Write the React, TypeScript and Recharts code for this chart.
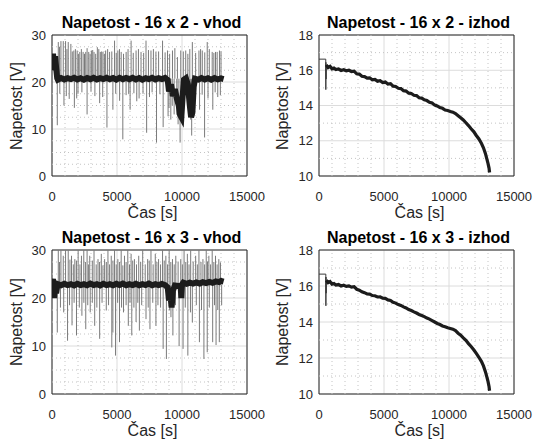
import { ComposedChart, Line, XAxis, YAxis, CartesianGrid, ReferenceLine, ReferenceArea } from 'recharts'

const FONT = '"Liberation Sans", Arial, Helvetica, sans-serif'

// axes
const X_TICKS = [0, 5000, 10000, 15000]
const X_MINOR = [1000, 2000, 3000, 4000, 6000, 7000, 8000, 9000, 11000, 12000, 13000, 14000]
const VHOD_Y_TICKS = [0, 10, 20, 30]
const VHOD_Y_MINOR = [2.5, 5, 7.5, 12.5, 15, 17.5, 22.5, 25, 27.5]
const IZHOD_Y_TICKS = [10, 12, 14, 16, 18]
const IZHOD_Y_MINOR = [11, 13, 15, 17]

// 16 x 2 - vhod
const VHOD2_LEVEL = 20.7
const VHOD2_CORE_T = [0, 80, 160, 240, 320, 400, 450, 700, 950, 1200, 1450, 1700, 1950, 2200, 2450, 2700, 2950, 3200, 3450, 3700, 3950, 4200, 4450, 4700, 4950, 5200, 5450, 5700, 5950, 6200, 6450, 6700, 6950, 7200, 7450, 7700, 7950, 8200, 8450, 8700, 8900, 9000, 9150, 9300, 9450, 9600, 9750, 9850, 9950, 10050, 10150, 10300, 10450, 10600, 10700, 10800, 10900, 11000, 11250, 11500, 11750, 12000, 12250, 12500, 12750, 13000, 13200]
const VHOD2_CORE_V = [24.5, 26.0, 22.5, 25.5, 23.0, 20.8, 20.5, 20.85, 20.55, 20.8, 20.6, 20.9, 20.55, 20.8, 20.5, 20.85, 20.6, 20.9, 20.55, 20.8, 20.6, 20.9, 20.6, 20.85, 20.5, 20.9, 20.6, 20.85, 20.6, 20.9, 20.55, 20.85, 20.5, 20.8, 20.6, 20.9, 20.55, 20.8, 20.6, 20.85, 20.4, 18.0, 19.5, 17.0, 18.5, 16.5, 15.0, 13.0, 12.5, 17.0, 20.5, 20.8, 19.5, 15.0, 12.5, 13.5, 19.0, 20.7, 20.5, 20.85, 20.55, 20.8, 20.5, 20.85, 20.55, 20.75, 20.6]
const VHOD2_UP_T = [484, 580, 687, 866, 1044, 1150, 1248, 1451, 1560, 1680, 1800, 1935, 2030, 2139, 2260, 2393, 2500, 2597, 2700, 2826, 2930, 3030, 3130, 3233, 3360, 3488, 3600, 3717, 3820, 3921, 4030, 4125, 4280, 4430, 4600, 4812, 4940, 5067, 5190, 5321, 5500, 5703, 5850, 6085, 6250, 6467, 6650, 6849, 7050, 7231, 7420, 7613, 7800, 7994, 8200, 8504, 8700, 8886, 9050, 9267, 9450, 9649, 9904, 10100, 10286, 10450, 10600, 10795, 11050, 11304, 11430, 11559, 11750, 11941, 12100, 12323, 12450, 12577, 12704, 12883, 13000]
const VHOD2_UP_V = [28.5, 27.5, 28.7, 28.7, 28.7, 27.0, 28.5, 28.1, 26.5, 26.7, 27.0, 26.7, 26.0, 26.4, 27.0, 26.4, 26.0, 26.4, 27.2, 26.4, 26.0, 26.7, 26.8, 26.4, 26.0, 27.4, 27.0, 26.4, 26.5, 26.4, 26.0, 26.7, 27.0, 26.4, 26.5, 28.8, 26.2, 26.7, 27.0, 26.4, 26.0, 26.4, 27.0, 28.8, 26.2, 26.7, 27.0, 26.4, 26.2, 28.8, 26.8, 26.7, 27.0, 26.4, 26.5, 28.8, 26.3, 26.7, 26.0, 26.7, 27.2, 25.3, 26.7, 26.5, 26.7, 26.0, 27.0, 28.5, 26.2, 26.7, 27.0, 26.7, 26.3, 28.5, 27.0, 26.4, 26.2, 26.4, 26.4, 26.7, 26.5]
const VHOD2_DOWN_T = [407, 600, 920, 1100, 1324, 1720, 1900, 2000, 2300, 2699, 3000, 3300, 3666, 3900, 4226, 4685, 4900, 5200, 5448, 5700, 5900, 6009, 6300, 6520, 6700, 7000, 7280, 7500, 7700, 8040, 8300, 8550, 8930, 9000, 9140, 9250, 9395, 9600, 9700, 9853, 10159, 10300, 10550, 10668, 10744, 10850, 11000, 11350, 11550, 11737, 12000, 12370, 12550, 12750, 12950]
const VHOD2_DOWN_V = [10.8, 17.5, 15.0, 17.0, 16.4, 14.5, 16.5, 17.5, 17.8, 13.1, 18.0, 17.0, 15.5, 16.8, 10.3, 14.1, 17.5, 16.0, 7.8, 17.2, 17.5, 14.1, 17.6, 15.9, 16.5, 17.5, 9.2, 16.8, 17.8, 7.1, 17.4, 10.4, 12.7, 14.5, 12.0, 15.0, 13.1, 13.0, 11.0, 7.1, 16.2, 17.6, 13.0, 12.0, 8.6, 12.5, 17.0, 14.1, 17.3, 8.2, 16.5, 14.1, 17.8, 16.8, 17.2]

// 16 x 3 - vhod
const VHOD3_LEVEL = 22.8
const VHOD3_CORE_T = [0, 80, 160, 240, 320, 400, 450, 700, 950, 1200, 1450, 1700, 1950, 2200, 2450, 2700, 2950, 3200, 3450, 3700, 3950, 4200, 4450, 4700, 4950, 5200, 5450, 5700, 5950, 6200, 6450, 6700, 6950, 7200, 7450, 7700, 7950, 8200, 8450, 8700, 8900, 9000, 9100, 9200, 9300, 9450, 9700, 9900, 9950, 10000, 10100, 10350, 10600, 10850, 11100, 11350, 11600, 11850, 12100, 12350, 12600, 12850, 13000, 13200]
const VHOD3_CORE_V = [22.0, 24.0, 20.0, 23.5, 21.0, 22.5, 22.9, 22.65, 22.95, 22.7, 22.9, 22.6, 22.95, 22.7, 22.9, 22.65, 23.0, 22.7, 22.9, 22.6, 22.95, 22.7, 22.9, 22.65, 22.95, 22.7, 23.0, 22.65, 22.9, 22.7, 22.95, 22.65, 22.9, 22.7, 23.0, 22.65, 22.9, 22.7, 22.95, 22.7, 22.2, 19.5, 21.0, 18.0, 21.5, 22.6, 22.5, 22.2, 20.0, 22.8, 23.2, 22.95, 23.2, 23.0, 23.25, 23.0, 23.3, 23.1, 23.35, 23.15, 23.45, 23.3, 23.55, 23.4]
const VHOD3_UP_T = [484, 580, 687, 866, 1044, 1248, 1380, 1502, 1640, 1757, 1880, 2011, 2150, 2266, 2444, 2570, 2699, 2800, 2902, 3100, 3233, 3400, 3539, 3660, 3793, 3920, 4048, 4180, 4303, 4430, 4557, 4690, 4812, 4940, 5067, 5200, 5321, 5450, 5576, 5700, 5830, 5960, 6085, 6210, 6340, 6500, 6671, 6820, 6976, 7170, 7358, 7480, 7613, 7780, 7944, 8070, 8198, 8350, 8504, 8630, 8758, 8890, 9013, 9140, 9267, 9400, 9522, 9700, 9904, 10030, 10159, 10290, 10413, 10540, 10668, 10860, 11050, 11180, 11304, 11460, 11610, 11740, 11864, 11960, 12068, 12200, 12323, 12450, 12577, 12700, 12832, 12959]
const VHOD3_UP_V = [30, 27.5, 30, 28.8, 30, 30, 28.0, 28.8, 27.0, 28.1, 27.8, 30, 27.0, 28.8, 30, 27.5, 30, 27.0, 28.8, 27.8, 30, 27.0, 28.1, 27.5, 29.2, 26.8, 28.1, 27.5, 30, 27.0, 28.8, 27.8, 30, 27.0, 28.1, 27.5, 30, 26.8, 28.8, 27.5, 30, 27.0, 29.2, 27.8, 28.1, 27.0, 28.8, 27.5, 30, 27.0, 28.1, 27.8, 30, 27.0, 29.2, 27.5, 28.1, 27.0, 30, 27.8, 28.8, 27.0, 30, 27.5, 28.1, 27.0, 28.8, 27.6, 28.1, 27.0, 30, 27.5, 29.2, 27.0, 30, 27.6, 28.8, 27.0, 30, 27.5, 28.1, 27.0, 30, 27.6, 28.8, 27.0, 30, 27.5, 28.8, 27.0, 28.1, 27.4]
const VHOD3_DOWN_T = [407, 650, 900, 1197, 1350, 1540, 1700, 1884, 2100, 2300, 2450, 2597, 2750, 2940, 3100, 3284, 3450, 3666, 3850, 4175, 4350, 4600, 4685, 4888, 5050, 5193, 5350, 5499, 5700, 5870, 6000, 6136, 6300, 6467, 6600, 6722, 6900, 7231, 7400, 7536, 7750, 7994, 8150, 8350, 8550, 8800, 9050, 9150, 9300, 9500, 9777, 10082, 10250, 10450, 10650, 10795, 11100, 11340, 11500, 11686, 11941, 12100, 12360, 12500, 12620, 12750, 12870, 13050]
const VHOD3_DOWN_V = [12.8, 18.0, 17.0, 11.1, 18.5, 14.3, 19.0, 12.2, 18.0, 16.3, 19.0, 13.5, 18.5, 17.0, 19.0, 14.2, 18.0, 11.5, 19.0, 17.4, 18.5, 9.7, 12.8, 8.0, 19.0, 10.8, 18.0, 17.0, 18.5, 14.2, 19.0, 12.2, 18.0, 15.0, 19.0, 13.2, 18.5, 15.6, 18.0, 13.5, 19.0, 14.2, 18.5, 18.0, 9.4, 7.3, 17.4, 16.0, 12.2, 18.5, 10.0, 9.4, 18.0, 8.0, 17.0, 14.9, 18.5, 10.8, 17.5, 7.3, 8.7, 18.0, 10.8, 18.5, 10.2, 17.5, 10.8, 18.5]

// 16 x 2 - izhod
const IZHOD2_START_T = [0, 520, 525, 530, 545, 560]
const IZHOD2_START_V = [16.63, 16.63, 14.9, 16.45, 15.5, 16.3]
const IZHOD2_T = [560, 700, 850, 1000, 1150, 1300, 1500, 1700, 1900, 2100, 2300, 2500, 2700, 2900, 3100, 3300, 3500, 3700, 3900, 4100, 4300, 4500, 4700, 4900, 5100, 5300, 5500, 5700, 5900, 6100, 6300, 6500, 6700, 6900, 7100, 7300, 7500, 7700, 7900, 8100, 8300, 8500, 8700, 8900, 9100, 9300, 9500, 9700, 9900, 10100, 10300, 10500, 10700, 10900, 11100, 11300, 11500, 11700, 11900, 12100, 12300, 12500, 12650, 12800, 12900, 13000, 13080, 13120]
const IZHOD2_V = [16.3, 16.15, 16.22, 16.08, 16.12, 16.04, 16.07, 15.99, 16.03, 15.97, 16.0, 15.93, 15.95, 15.8, 15.78, 15.66, 15.64, 15.55, 15.57, 15.46, 15.48, 15.38, 15.41, 15.3, 15.33, 15.22, 15.24, 15.1, 15.08, 14.98, 14.96, 14.84, 14.82, 14.7, 14.68, 14.58, 14.56, 14.44, 14.42, 14.32, 14.28, 14.18, 14.14, 14.02, 13.98, 13.88, 13.84, 13.74, 13.72, 13.66, 13.62, 13.54, 13.42, 13.3, 13.18, 13.02, 12.86, 12.68, 12.52, 12.3, 12.1, 11.84, 11.6, 11.28, 11.0, 10.72, 10.45, 10.2]

// 16 x 3 - izhod
const IZHOD3_START_T = [0, 525, 530, 535, 550, 565]
const IZHOD3_START_V = [16.66, 16.66, 14.9, 16.5, 15.6, 16.3]
const IZHOD3_T = [565, 700, 850, 1000, 1150, 1300, 1500, 1700, 1900, 2100, 2300, 2500, 2700, 2900, 3100, 3300, 3500, 3700, 3900, 4100, 4300, 4500, 4700, 4900, 5100, 5300, 5500, 5700, 5900, 6100, 6300, 6500, 6700, 6900, 7100, 7300, 7500, 7700, 7900, 8100, 8300, 8500, 8700, 8900, 9100, 9300, 9500, 9700, 9900, 10100, 10300, 10500, 10700, 10900, 11100, 11300, 11500, 11700, 11900, 12100, 12300, 12500, 12650, 12800, 12900, 13000, 13080, 13120]
const IZHOD3_V = [16.32, 16.18, 16.24, 16.1, 16.14, 16.05, 16.08, 16.0, 16.04, 15.98, 16.01, 15.94, 15.96, 15.82, 15.77, 15.68, 15.63, 15.56, 15.55, 15.47, 15.46, 15.39, 15.4, 15.32, 15.31, 15.23, 15.2, 15.1, 15.05, 14.97, 14.92, 14.84, 14.78, 14.69, 14.64, 14.56, 14.5, 14.42, 14.36, 14.3, 14.22, 14.16, 14.08, 14.0, 13.92, 13.86, 13.78, 13.74, 13.68, 13.64, 13.6, 13.52, 13.38, 13.27, 13.12, 12.98, 12.8, 12.64, 12.46, 12.26, 12.04, 11.8, 11.56, 11.24, 10.98, 10.7, 10.42, 10.18]

type Pt = { t: number; v: number | null }

const toPoints = (ts: number[], vs: number[]): Pt[] => ts.map((t, i) => ({ t, v: vs[i] }))

// each spike is a vertical stroke from the base level to its peak; a null gap separates spikes
const spikes = (level: number, upT: number[], upV: number[], downT: number[], downV: number[]): Pt[] => {
  const events = [...toPoints(upT, upV), ...toPoints(downT, downV)].sort((a, b) => a.t - b.t)
  return events.flatMap((e) => [{ t: e.t, v: level }, e, { t: e.t, v: null }])
}

interface Series {
  data: Pt[]
  stroke: string
  width: number
}

interface PanelProps {
  left: number
  top: number
  width: number
  height: number
  yWidth: number
  bottom: number
  title: string
  yDomain: [number, number]
  yTicks: number[]
  yMinor: number[]
  series: Series[]
}

function Panel({ left, top, width, height, yWidth, bottom, title, yDomain, yTicks, yMinor, series }: PanelProps) {
  const plotLeft = left + yWidth
  const plotRight = left + width - 19
  const plotTop = top + 35
  const plotBottom = top + height - bottom - 30
  const cx = (plotLeft + plotRight) / 2
  const text = { position: 'absolute' as const, fontFamily: FONT, color: '#262626', whiteSpace: 'nowrap' as const, lineHeight: 1 }
  return (
    <>
      <div style={{ position: 'absolute', left, top, width, height }}>
        <ComposedChart width={width} height={height} margin={{ top: 35, right: 19, bottom, left: 0 }}>
          <CartesianGrid stroke="#dcdcdc" fill="none" />
          {X_MINOR.map((x) => (
            <ReferenceLine key={'x' + x} x={x} stroke="#c4c4c4" strokeDasharray="1 3" />
          ))}
          {yMinor.map((y) => (
            <ReferenceLine key={'y' + y} y={y} stroke="#c4c4c4" strokeDasharray="1 3" />
          ))}
          <XAxis
            type="number"
            dataKey="t"
            domain={[0, 15000]}
            ticks={X_TICKS}
            allowDataOverflow
            height={30}
            axisLine={false}
            tickLine={false}
            tickMargin={10}
            tick={{ fontSize: 13, fill: '#262626', fontFamily: FONT }}
          />
          <YAxis
            type="number"
            dataKey="v"
            domain={yDomain}
            ticks={yTicks}
            allowDataOverflow
            width={yWidth}
            axisLine={false}
            tickLine={false}
            tickMargin={0}
            tick={{ fontSize: 13, fill: '#262626', fontFamily: FONT }}
          />
          {series.map((s, i) => (
            <Line
              key={i}
              data={s.data}
              dataKey="v"
              stroke={s.stroke}
              strokeWidth={s.width}
              dot={false}
              activeDot={false}
              connectNulls={false}
              isAnimationActive={false}
            />
          ))}
          <ReferenceArea x1={0} x2={15000} y1={yDomain[0]} y2={yDomain[1]} fill="none" stroke="#262626" strokeWidth={1} />
        </ComposedChart>
      </div>
      <div style={{ ...text, left: cx + 2, top: top + 23, transform: 'translate(-50%, -50%)', fontSize: 16, fontWeight: 'bold', color: '#000' }}>
        {title}
      </div>
      <div style={{ ...text, left: left + 17, top: (plotTop + plotBottom) / 2, transform: 'translate(-50%, -50%) rotate(-90deg)', fontSize: 16 }}>
        Napetost [V]
      </div>
      <div style={{ ...text, left: cx + 3, top: plotBottom + 37, transform: 'translate(-50%, -50%)', fontSize: 16 }}>
        Čas [s]
      </div>
    </>
  )
}

export default function App() {
  const vhod2: Series[] = [
    { data: spikes(VHOD2_LEVEL, VHOD2_UP_T, VHOD2_UP_V, VHOD2_DOWN_T, VHOD2_DOWN_V), stroke: '#7a7a7a', width: 1 },
    { data: toPoints(VHOD2_CORE_T, VHOD2_CORE_V), stroke: '#1c1c1c', width: 6 },
  ]
  const vhod3: Series[] = [
    { data: spikes(VHOD3_LEVEL, VHOD3_UP_T, VHOD3_UP_V, VHOD3_DOWN_T, VHOD3_DOWN_V), stroke: '#7a7a7a', width: 1 },
    { data: toPoints(VHOD3_CORE_T, VHOD3_CORE_V), stroke: '#1c1c1c', width: 6 },
  ]
  const izhod2: Series[] = [
    { data: toPoints(IZHOD2_START_T, IZHOD2_START_V), stroke: '#3a3a3a', width: 1 },
    { data: toPoints(IZHOD2_T, IZHOD2_V), stroke: '#1c1c1c', width: 3.2 },
  ]
  const izhod3: Series[] = [
    { data: toPoints(IZHOD3_START_T, IZHOD3_START_V), stroke: '#3a3a3a', width: 1 },
    { data: toPoints(IZHOD3_T, IZHOD3_V), stroke: '#1c1c1c', width: 3.2 },
  ]

  return (
    <div style={{ position: 'absolute', left: 0, top: 0, width: 533, height: 439, background: '#fff', overflow: 'hidden' }}>
      <Panel left={0} top={0} width={266} height={220} yWidth={52} bottom={14} title="Napetost - 16 x 2 - vhod" yDomain={[0, 30]} yTicks={VHOD_Y_TICKS} yMinor={VHOD_Y_MINOR} series={vhod2} />
      <Panel left={266} top={0} width={267} height={220} yWidth={53} bottom={14} title="Napetost - 16 x 2 - izhod" yDomain={[10, 18]} yTicks={IZHOD_Y_TICKS} yMinor={IZHOD_Y_MINOR} series={izhod2} />
      <Panel left={0} top={215} width={266} height={224} yWidth={52} bottom={15} title="Napetost - 16 x 3 - vhod" yDomain={[0, 30]} yTicks={VHOD_Y_TICKS} yMinor={VHOD_Y_MINOR} series={vhod3} />
      <Panel left={266} top={215} width={267} height={224} yWidth={53} bottom={15} title="Napetost - 16 x 3 - izhod" yDomain={[10, 18]} yTicks={IZHOD_Y_TICKS} yMinor={IZHOD_Y_MINOR} series={izhod3} />
    </div>
  )
}
